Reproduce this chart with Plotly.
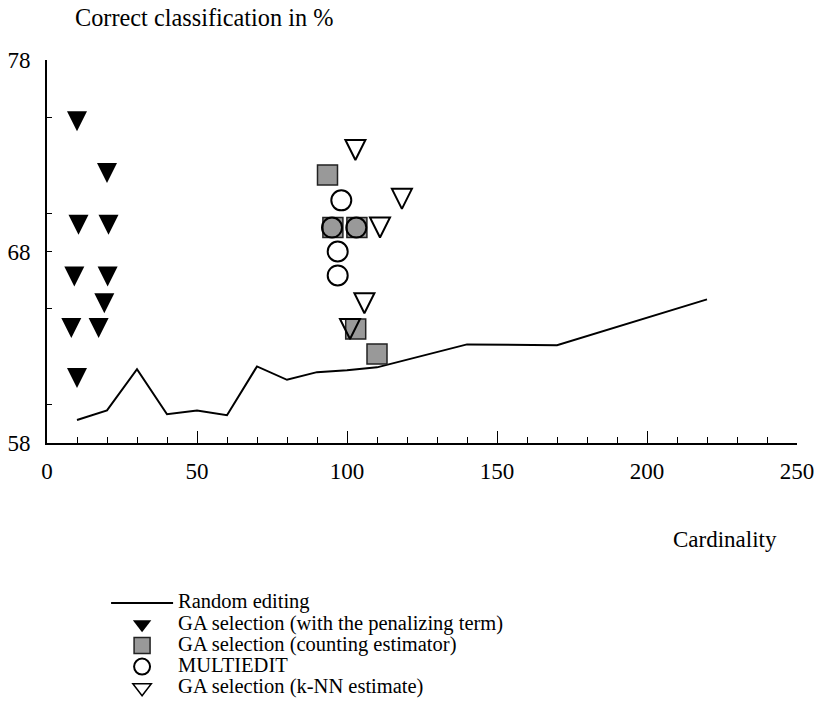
import plotly.graph_objects as go

# Random editing curve
rand_x = [10, 20, 30, 40, 50, 60, 70, 80, 90, 100, 110, 140, 170, 220]
rand_y = [59.2, 59.7, 61.85, 59.5, 59.7, 59.45, 62.0, 61.3, 61.7, 61.8, 61.95, 63.15, 63.1, 65.5]

# GA selection (with the penalizing term)
pen_x = [10, 20, 10.5, 20.5, 9.1, 20.2, 19.1, 8.1, 17.2, 10]
pen_y = [74.8, 72.1, 69.4, 69.4, 66.7, 66.7, 65.3, 64.0, 64.0, 61.4]

# GA selection (counting estimator)
cnt_x = [93.5, 95.3, 103.3, 102.9, 110]
cnt_y = [72.0, 69.25, 69.25, 63.95, 62.65]

# MULTIEDIT
mul_x = [98.1, 95.0, 103.1, 96.9, 96.9]
mul_y = [70.67, 69.25, 69.25, 68.0, 66.75]

# GA selection (k-NN estimate)
knn_x = [102.8, 118.3, 111.0, 105.8, 101.0]
knn_y = [73.3, 70.75, 69.25, 65.3, 63.95]

names = [
    "Random editing",
    "GA selection (with the penalizing term)",
    "GA selection (counting estimator)",
    "MULTIEDIT",
    "GA selection (k-NN estimate)",
]

FONT = "Times New Roman, Liberation Serif, DejaVu Serif, serif"

def lbl(s):
    return '<span style="font-size:20.5px">' + s + '</span>'

fig = go.Figure()
fig.add_trace(go.Scatter(x=rand_x, y=rand_y, mode="lines", legendrank=1,
                         line=dict(color="black", width=2), name=lbl(names[0])))
# data marks (tall triangles centred on the points)
fig.add_trace(go.Scatter(x=pen_x, y=pen_y, mode="markers", showlegend=False,
                         marker=dict(symbol="arrow-down", size=20, standoff=10,
                                     color="black", line=dict(width=0))))
# legend entry for the filled triangles
fig.add_trace(go.Scatter(x=[None], y=[None], mode="markers", name=lbl(names[1]),
                         legendrank=2,
                         marker=dict(symbol="triangle-down", size=16, color="black",
                                     line=dict(width=0))))
fig.add_trace(go.Scatter(x=cnt_x, y=cnt_y, mode="markers", name=lbl(names[2]),
                         legendrank=3,
                         marker=dict(symbol="square", size=20, color="#999999",
                                     line=dict(color="#222222", width=1.5))))
fig.add_trace(go.Scatter(x=mul_x, y=mul_y, mode="markers", name=lbl(names[3]),
                         legendrank=4,
                         marker=dict(symbol="circle-open", size=20, color="black",
                                     line=dict(color="black", width=2))))
fig.add_trace(go.Scatter(x=knn_x, y=knn_y, mode="markers", showlegend=False,
                         marker=dict(symbol="arrow-down-open", size=20, standoff=10,
                                     color="black", line=dict(color="black", width=2))))
fig.add_trace(go.Scatter(x=[None], y=[None], mode="markers", name=lbl(names[4]),
                         legendrank=5,
                         marker=dict(symbol="triangle-down-open", size=16, color="black",
                                     line=dict(color="black", width=1.5))))

fig.update_layout(
    width=816, height=727,
    margin=dict(l=47, r=19, t=60, b=284, autoexpand=False),
    paper_bgcolor="white", plot_bgcolor="white",
    font=dict(family=FONT, color="black", size=23),
    showlegend=True,
    legend=dict(xref="container", yref="container", x=0.13, y=0.192,
                xanchor="left", yanchor="top", font=dict(size=14, family=FONT),
                itemwidth=62, bgcolor="rgba(0,0,0,0)", tracegroupgap=0,
                traceorder="normal"),
    xaxis=dict(range=[0, 250], showgrid=False, zeroline=False,
               showline=True, linecolor="black", linewidth=2,
               ticks="inside", ticklen=12, tickwidth=1, tickcolor="black",
               tick0=0, dtick=50, ticklabelstandoff=6,
               minor=dict(ticks="inside", ticklen=6, dtick=10, tickcolor="black", tickwidth=1),
               tickfont=dict(size=23, family=FONT)),
    yaxis=dict(range=[58, 78], showgrid=False, zeroline=False,
               showline=True, linecolor="black", linewidth=2,
               ticks="inside", ticklen=5, tickwidth=1, tickcolor="black",
               tick0=58, dtick=10, ticklabelstandoff=10,
               minor=dict(ticks="inside", ticklen=5, dtick=5, tickcolor="black", tickwidth=1),
               tickfont=dict(size=23, family=FONT)),
    annotations=[
        dict(text="Correct classification in %", xref="paper", yref="paper",
             x=0.0347, y=1.11, xanchor="left", yanchor="middle", showarrow=False,
             font=dict(size=24.3, family=FONT)),
        dict(text="Cardinality", xref="paper", yref="paper",
             x=0.904, y=-0.251, xanchor="center", yanchor="middle", showarrow=False,
             font=dict(size=23, family=FONT)),
    ],
)

fig.write_html("out.html")
